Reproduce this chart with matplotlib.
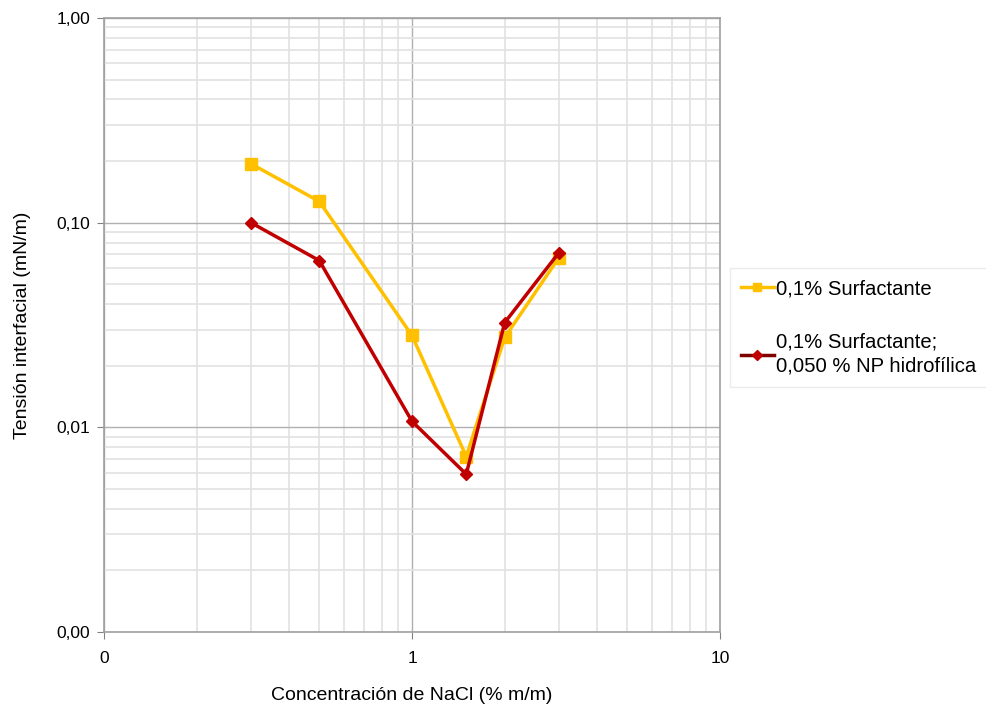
import matplotlib
matplotlib.use("Agg")
import matplotlib.pyplot as plt
from matplotlib.ticker import FixedLocator, FixedFormatter, LogLocator, NullFormatter
from matplotlib.lines import Line2D

plt.rcParams['font.family'] = ['Liberation Sans', 'DejaVu Sans']

# data
nacl = [0.3, 0.5, 1.0, 1.5, 2.0, 3.0]
tension_surf = [0.194, 0.127, 0.0281, 0.0072, 0.0275, 0.0675]
tension_surf_np = [0.100, 0.0653, 0.0107, 0.0059, 0.0325, 0.0714]
labels = ['0,1% Surfactante', '0,1% Surfactante;\n0,050 % NP hidrofílica']
xticks = [0.1, 1, 10]
xticklabels = ['0', '1', '10']
yticks = [0.001, 0.01, 0.1, 1]
yticklabels = ['0,00', '0,01', '0,10', '1,00']

yellow = '#FFC000'
red = '#C00000'

fig = plt.figure(figsize=(9.86, 7.09), dpi=100)
ax = fig.add_axes([104/986, 77/709, 616/986, 614/709])

ax.plot(nacl, tension_surf, color=yellow, lw=2.5, marker='s', ms=8, zorder=3)
ax.plot(nacl, tension_surf_np, color=red, lw=2.5, marker='D', ms=6, zorder=4)

ax.set_xscale('log')
ax.set_yscale('log')
ax.set_xlim(0.1, 10)
ax.set_ylim(0.001, 1)

ax.xaxis.set_major_locator(FixedLocator(xticks))
ax.xaxis.set_major_formatter(FixedFormatter(xticklabels))
ax.yaxis.set_major_locator(FixedLocator(yticks))
ax.yaxis.set_major_formatter(FixedFormatter(yticklabels))
for a in (ax.xaxis, ax.yaxis):
    a.set_minor_locator(LogLocator(base=10, subs=range(2, 10)))
    a.set_minor_formatter(NullFormatter())

ax.grid(which='major', color='#B0B0B0', lw=1.0)
ax.grid(which='minor', color='#E2E2E2', lw=1.2)
ax.set_axisbelow(True)
ax.tick_params(which='minor', length=0)
ax.tick_params(which='major', length=5, color='#808080', labelsize=12.5, pad=5)
ax.tick_params(axis='x', pad=9)
for s in ax.spines.values():
    s.set_color('#A0A0A0')
    s.set_linewidth(1.2)

ax.set_xlabel('Concentración de NaCl (% m/m)', fontsize=14, labelpad=15)
ax.set_ylabel('Tensión interfacial (mN/m)', fontsize=14, labelpad=18)

handles = [
    Line2D([], [], color=yellow, lw=2.5, marker='s', ms=6),
    Line2D([], [], color='#800000', lw=2.5, marker='D', ms=5, mfc=red, mec=red),
]
leg = fig.legend(handles, labels, loc='upper left', bbox_to_anchor=(730/986, 1 - 268/709),
                 fontsize=14.6, frameon=True, fancybox=False, edgecolor='#E6E6E6',
                 handlelength=1.6, handletextpad=0.1, labelspacing=1.7, borderpad=0.55,
                 borderaxespad=0)
for t in leg.get_texts():
    t.set_linespacing(1.35)

fig.savefig('out.png', dpi=100)
